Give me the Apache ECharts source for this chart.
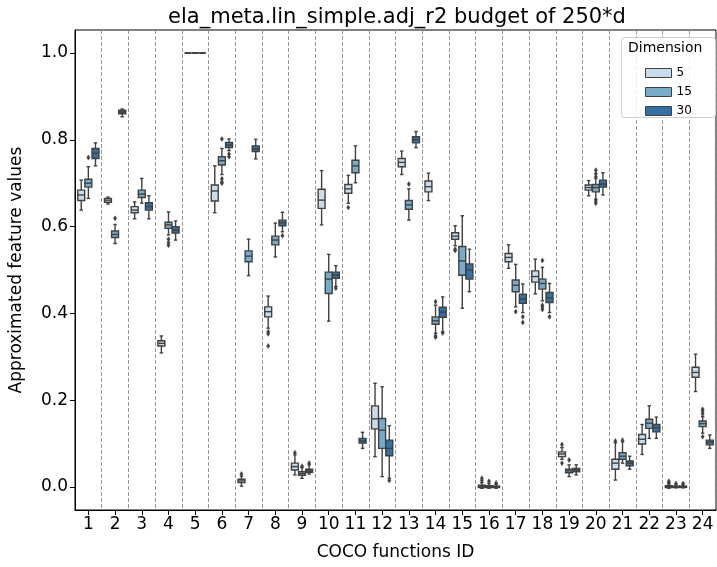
<!DOCTYPE html>
<html>
<head>
<meta charset="utf-8">
<script src="https://cdn.jsdelivr.net/npm/echarts@6/dist/echarts.min.js"></script>
<style>html,body{margin:0;padding:0;background:#fff}#c{width:717px;height:567px}</style>
</head>
<body>
<div id="c"></div>
<script>
// categories
const categories = ['1','2','3','4','5','6','7','8','9','10','11','12','13','14','15','16','17','18','19','20','21','22','23','24'];
const dims = ['5','15','30'];
const yTicks = [0, 0.2, 0.4, 0.6, 0.8, 1.0];

// [lowWhisker, q1, median, q3, highWhisker] per category
const box5 = [
  [0.638,0.660,0.673,0.684,0.707],[0.652,0.656,0.661,0.665,0.668],[0.618,0.632,0.638,0.646,0.657],
  [0.309,0.325,0.331,0.337,0.348],[1.0,1.0,1.0,1.0,1.0],[0.632,0.659,0.682,0.696,0.740],
  [0.002,0.010,0.014,0.018,0.025],[0.366,0.392,0.404,0.415,0.440],[0.028,0.039,0.047,0.055,0.074],
  [0.604,0.642,0.661,0.686,0.729],[0.654,0.677,0.687,0.697,0.718],[0.070,0.134,0.157,0.187,0.239],
  [0.720,0.738,0.748,0.757,0.774],[0.660,0.680,0.692,0.705,0.723],[0.556,0.571,0.578,0.586,0.602],
  [-0.003,-0.001,0.001,0.004,0.010],[0.504,0.519,0.529,0.538,0.558],[0.445,0.472,0.485,0.498,0.525],
  [0.064,0.070,0.076,0.081,0.091],[0.671,0.684,0.690,0.696,0.706],[0.016,0.041,0.055,0.064,0.102],
  [0.075,0.099,0.110,0.121,0.144],[-0.003,-0.001,0.001,0.003,0.007],[0.220,0.253,0.264,0.276,0.306]
];
const box15 = [
  [0.665,0.691,0.700,0.709,0.738],[0.561,0.575,0.582,0.590,0.605],[0.654,0.667,0.675,0.684,0.711],
  [0.581,0.596,0.604,0.610,0.634],[1.0,1.0,1.0,1.0,1.0],[0.720,0.742,0.752,0.761,0.780],
  [0.487,0.519,0.532,0.544,0.571],[0.530,0.558,0.569,0.578,0.608],[0.020,0.027,0.031,0.035,0.045],
  [0.382,0.446,0.479,0.495,0.536],[0.701,0.724,0.740,0.753,0.786],[0.024,0.089,0.131,0.158,0.231],
  [0.615,0.640,0.650,0.660,0.687],[0.354,0.375,0.383,0.392,0.419],[0.412,0.488,0.521,0.554,0.625],
  [-0.003,-0.001,0.001,0.003,0.008],[0.415,0.450,0.465,0.477,0.513],[0.429,0.456,0.469,0.479,0.506],
  [0.024,0.033,0.037,0.041,0.051],[0.663,0.680,0.690,0.697,0.711],[0.055,0.064,0.071,0.079,0.104],
  [0.112,0.135,0.147,0.156,0.187],[-0.002,-0.001,0.000,0.002,0.005],[0.124,0.139,0.146,0.152,0.162]
];
const box30 = [
  [0.740,0.757,0.769,0.780,0.793],[0.853,0.860,0.864,0.868,0.871],[0.618,0.638,0.646,0.655,0.671],
  [0.569,0.585,0.592,0.600,0.613],[1.0,1.0,1.0,1.0,1.0],[0.775,0.782,0.788,0.794,0.802],
  [0.756,0.773,0.779,0.786,0.801],[0.588,0.602,0.609,0.615,0.633],[0.030,0.034,0.037,0.041,0.051],
  [0.462,0.481,0.488,0.495,0.510],[0.089,0.101,0.106,0.112,0.126],[0.020,0.072,0.089,0.108,0.141],
  [0.782,0.793,0.800,0.807,0.819],[0.358,0.391,0.403,0.414,0.438],[0.450,0.479,0.500,0.514,0.548],
  [-0.003,-0.001,0.001,0.002,0.006],[0.402,0.423,0.433,0.444,0.468],[0.402,0.425,0.436,0.448,0.469],
  [0.028,0.035,0.039,0.043,0.051],[0.673,0.691,0.698,0.707,0.724],[0.041,0.049,0.055,0.060,0.071],
  [0.112,0.127,0.137,0.144,0.161],[-0.002,-0.001,0.000,0.002,0.005],[0.089,0.097,0.103,0.108,0.120]
];

// outliers: [categoryIndex (0-based), value]
const out5 = [[6,0.030],[7,0.358],[7,0.353],[7,0.325],[8,0.079],[10,0.644],[14,0.545],[14,0.548],
  [15,0.015],[15,0.020],[18,0.098],[18,0.055],[20,0.106],[22,0.010],[22,0.013]];
const out15 = [[0,0.759],[1,0.619],[3,0.571],[3,0.563],[3,0.557],[5,0.710],[5,0.703],[5,0.700],[5,0.802],
  [8,0.048],[12,0.698],[13,0.427],[13,0.348],[13,0.345],[15,0.013],[16,0.404],
  [17,0.419],[17,0.415],[17,0.409],[17,0.522],[18,0.062],[19,0.730],[19,0.722],[19,0.715],[19,0.659],[19,0.654],
  [20,0.108],[22,0.008],[23,0.179],[23,0.174],[23,0.168],[23,0.116]];
const out30 = [[5,0.767],[5,0.761],[7,0.579],[8,0.055],[9,0.458],[11,0.015],[13,0.355],[16,0.392],[16,0.379],
  [17,0.392],[15,0.009],[22,0.008]];

const fills = ['#cbdbea', '#79abc9', '#3470a2'];
const EDGE = '#404040';
const LW = 1.4;
const offsets = [-0.2667, 0, 0.2667];
const FONT = 'DejaVu Sans';

function boxRender(off, fill) {
  return function (params, api) {
    const c = api.value(0);
    const bw = api.size([1, 0])[0];
    const x = api.coord([c, 0])[0] + off * bw;
    const w = 0.26 * bw, cw = w / 2;
    const y = k => api.coord([c, api.value(k)])[1];
    const yLo = y(1), yQ1 = y(2), yMed = y(3), yQ3 = y(4), yHi = y(5);
    const st = { stroke: EDGE, lineWidth: LW };
    return { type: 'group', children: [
      { type: 'line', shape: { x1: x, y1: yLo, x2: x, y2: yQ1 }, style: st },
      { type: 'line', shape: { x1: x, y1: yQ3, x2: x, y2: yHi }, style: st },
      { type: 'line', shape: { x1: x - cw / 2, y1: yLo, x2: x + cw / 2, y2: yLo }, style: st },
      { type: 'line', shape: { x1: x - cw / 2, y1: yHi, x2: x + cw / 2, y2: yHi }, style: st },
      { type: 'rect', shape: { x: x - w / 2, y: yQ3, width: w, height: Math.max(yQ1 - yQ3, 0) },
        style: { fill: fill, stroke: EDGE, lineWidth: LW } },
      { type: 'line', shape: { x1: x - w / 2, y1: yMed, x2: x + w / 2, y2: yMed }, style: st }
    ]};
  };
}
function outRender(off) {
  return function (params, api) {
    const c = api.value(0);
    const bw = api.size([1, 0])[0];
    const p = api.coord([c, api.value(1)]);
    const x = p[0] + off * bw, yy = p[1];
    return { type: 'polygon', shape: { points: [[x, yy - 2.5], [x + 1.6, yy], [x, yy + 2.5], [x - 1.6, yy]] },
      style: { fill: EDGE, stroke: EDGE, lineWidth: 0.5 } };
  };
}

const boxes = [box5, box15, box30];
const outs = [out5, out15, out30];
const series = [];
dims.forEach((d, i) => {
  series.push({
    name: d, type: 'custom', renderItem: boxRender(offsets[i], fills[i]),
    itemStyle: { color: fills[i], borderColor: EDGE, borderWidth: 1 },
    encode: { x: 0, y: [1, 2, 3, 4, 5] },
    data: boxes[i].map((b, k) => [k].concat(b)), z: 3, silent: true
  });
});
dims.forEach((d, i) => {
  series.push({
    name: d, type: 'custom', renderItem: outRender(offsets[i]),
    encode: { x: 0, y: 1 }, data: outs[i], z: 4, silent: true
  });
});

const chart = echarts.init(document.getElementById('c'), null, { renderer: 'canvas' });
chart.setOption({
  animation: false,
  backgroundColor: '#fff',
  textStyle: { fontFamily: FONT },
  title: { text: 'ela_meta.lin_simple.adj_r2 budget of 250*d', left: 392, textAlign: 'center', top: 2,
    textStyle: { fontFamily: FONT, fontSize: 21, fontWeight: 'normal', color: '#000' } },
  grid: { left: 75, right: 1, top: 30, bottom: 57, show: true, borderColor: '#000', borderWidth: 1 },
  legend: {
    data: dims.map((d, i) => ({ name: d, icon: 'rect', itemStyle: { color: fills[i], borderColor: EDGE, borderWidth: 1 } })),
    orient: 'vertical', left: 640, top: 62, itemWidth: 26, itemHeight: 9, itemGap: 7, z: 20,
    textStyle: { fontFamily: FONT, fontSize: 12, lineHeight: 12, color: '#000', padding: [0, 0, 0, 0] },
    inactiveColor: '#000',
    selectedMode: false
  },
  graphic: [
    { type: 'rect', left: 621, top: 37, shape: { width: 94, height: 80, r: 3 },
      style: { fill: 'rgba(255,255,255,0.85)', stroke: '#d0d0d0', lineWidth: 1 }, z: 5 },
    { type: 'text', left: 628, top: 41, style: { text: 'Dimension', font: '14px DejaVu Sans', fill: '#000' }, z: 6 }
  ],
  xAxis: {
    type: 'category', data: categories, boundaryGap: true,
    name: 'COCO functions ID', nameLocation: 'middle', nameGap: 34,
    nameTextStyle: { fontFamily: FONT, fontSize: 17, color: '#000' },
    axisLine: { show: true, onZero: false, lineStyle: { color: '#000', width: 1 } },
    axisTick: { show: true, alignWithLabel: true, interval: 0, length: 5, lineStyle: { color: '#000' } },
    axisLabel: { interval: 0, fontFamily: FONT, fontSize: 17, color: '#000', margin: 6 },
    splitLine: { show: true, interval: 0, lineStyle: { color: '#8a8a8a', width: 0.9, type: [4, 2] } }
  },
  yAxis: {
    type: 'value', min: -0.053, max: 1.053,
    name: 'Approximated feature values', nameLocation: 'middle', nameGap: 50,
    nameTextStyle: { fontFamily: FONT, fontSize: 17, color: '#000' },
    axisLine: { show: true, onZero: false, lineStyle: { color: '#000', width: 1 } },
    axisTick: { show: true, length: 5, customValues: yTicks, lineStyle: { color: '#000' } },
    axisLabel: { customValues: yTicks, formatter: v => v.toFixed(1), fontFamily: FONT, fontSize: 17, color: '#000', margin: 7 },
    splitLine: { show: false }
  },
  series: series
});
</script>
</body>
</html>
